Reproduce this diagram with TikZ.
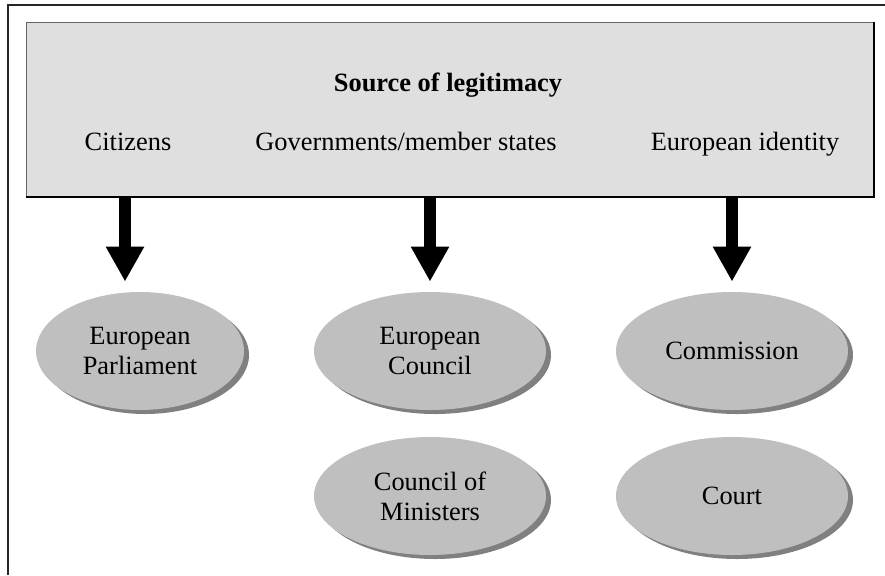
\documentclass[tikz,border=0pt]{standalone}
\usepackage{fontspec}
\setmainfont{Liberation Serif}
\usetikzlibrary{
  positioning,
  arrows.meta,
  shapes.geometric,
  shadows
}

\begin{document}
\begin{tikzpicture}[
    x=0.5pt, y=-0.5pt,
    font=\fontsize{13.2}{15}\selectfont,
    body/.style={
      ellipse,
      fill=black!25,
      draw=none,
      inner sep=0pt,
      minimum width=116pt,
      minimum height=59pt,
      align=center,
      drop shadow={shadow xshift=2.5pt,shadow yshift=-2pt,fill=black!50,opacity=1}
    },
    origin/.style={
      anchor=base
    },
    push/.style={
      line width=6pt,
      -{Triangle[width=18pt,length=17.5pt]},
      shorten >=5pt
    }
  ]
  \useasboundingbox (0,0) rectangle (885,575);
  \draw[line width=1.2pt,black!85] (8,575) -- (8,5) -- (885,5);

  \begin{scope}
    \node[fill=black!12.5,draw=black!60,inner sep=0pt,minimum width=423.5pt,minimum height=87pt,anchor=north west] (src) at (26,22) {};
    \draw[black,line width=0.8pt] (src.north east) -- (src.south east) -- (src.south west);

    \node[origin,font=\fontsize{13.2}{15}\selectfont\bfseries] (title) at (448,91) {Source of legitimacy};
    \node[origin] (cit) at (128,150) {Citizens};
    \node[origin] (gov) at (406,150) {Governments/member states};
    \node[origin] (ident) at (745,150) {European identity};

    \node[body,minimum width=104pt] (parl) at (140,351) {European\\Parliament};
    \node[body] (euco) at (430,351) {European\\Council};
    \node[body] (comm) at (732,351) {Commission};
    \node[body] (mini) at (430,496) {Council of\\Ministers};
    \node[body] (court) at (732,496) {Court};

    \coordinate (left) at (125,0);
    \draw[push] (src.south -| left) -- (left |- parl.north);
    \draw[push] (src.south -| euco) -- (euco.north);
    \draw[push] (src.south -| comm) -- (comm.north);
  \end{scope}
\end{tikzpicture}
\end{document}
